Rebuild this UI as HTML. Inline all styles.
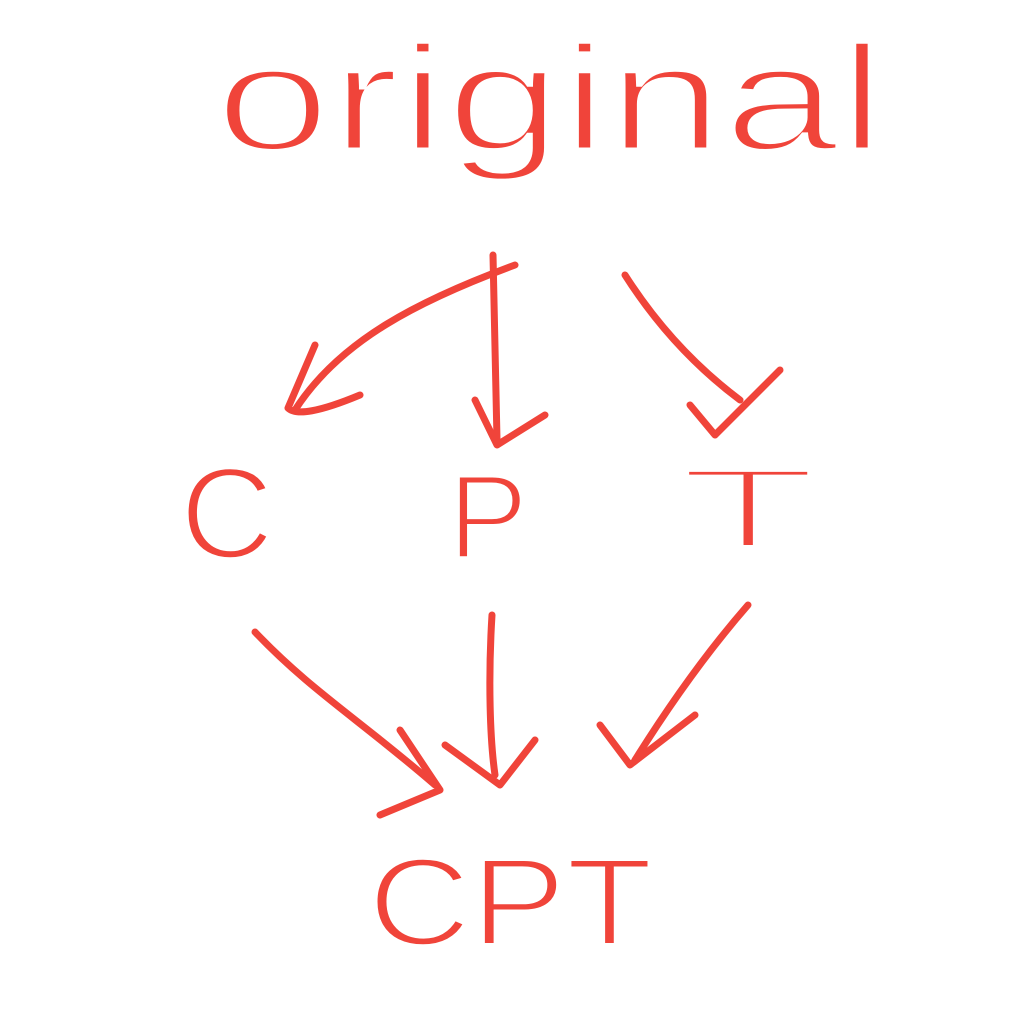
<!DOCTYPE html>
<html><head><style>
html,body{margin:0;padding:0;background:#fff;}
svg{display:block;}
</style></head><body>
<svg width="1024" height="1024" viewBox="0 0 1024 1024" xmlns="http://www.w3.org/2000/svg">
<rect width="1024" height="1024" fill="#fff"/>
<g fill="#f0443a" stroke="#fff" font-family="Liberation Sans, sans-serif">
<text x="215" y="150" font-size="150" stroke-width="5" textLength="670" lengthAdjust="spacingAndGlyphs">original</text>
<text x="180" y="558" font-size="130" stroke-width="4">C</text>
<text x="448" y="558" font-size="120" stroke-width="4">P</text>
<text x="0" y="0" font-size="115" stroke-width="6" transform="translate(678,548) scale(2.0,1)">T</text>
<text x="368" y="945" font-size="125" stroke-width="4" textLength="285" lengthAdjust="spacingAndGlyphs">CPT</text>
</g>
<g fill="none" stroke="#f0443a" stroke-width="7" stroke-linecap="round" stroke-linejoin="round">
<path d="M515,265 C420,300 340,340 295,410"/>
<path d="M315,345 L288,408 Q300,420 360,395"/>
<path d="M493,255 L497,440"/>
<path d="M475,400 L497,445 L545,415"/>
<path d="M625,275 C660,330 700,370 740,400"/>
<path d="M690,405 L715,435 L780,370"/>
<path d="M255,632 C310,690 360,720 435,785"/>
<path d="M380,815 L440,790 L400,730"/>
<path d="M492,615 C488,680 490,740 495,775"/>
<path d="M445,745 L500,785 L535,740"/>
<path d="M748,605 C700,660 660,720 635,760"/>
<path d="M600,725 L630,765 L695,715"/>
</g>
</svg>
</body></html>
